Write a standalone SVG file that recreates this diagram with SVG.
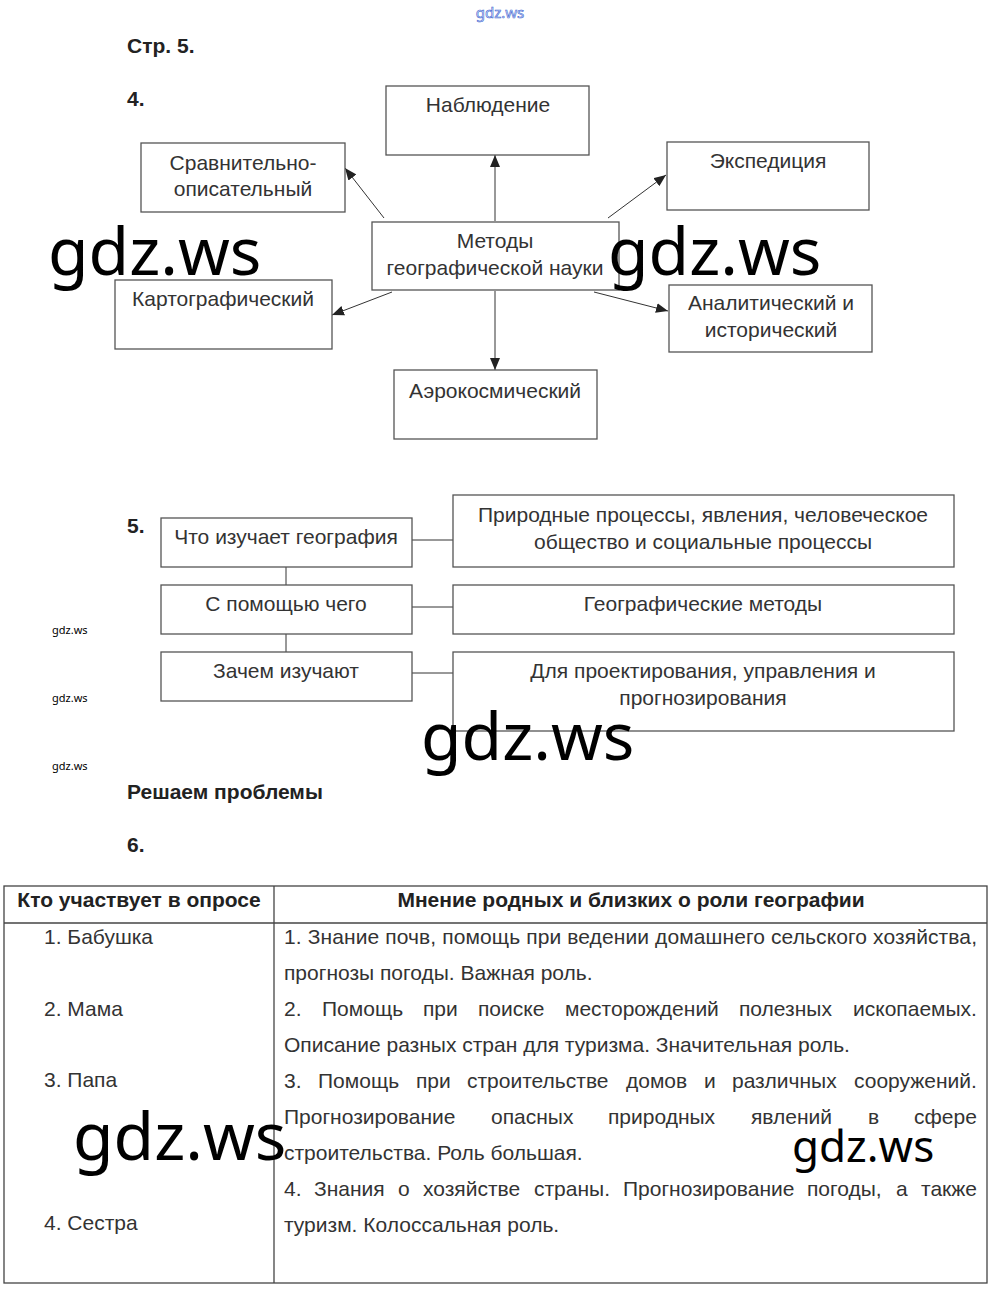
<svg xmlns="http://www.w3.org/2000/svg" width="1000" height="1296" viewBox="0 0 1000 1296">
<style>
.bg{fill:#fff}
.box{fill:#fff;stroke:#555;stroke-width:1.3}
.t{font-family:"Liberation Sans",Arial,sans-serif;font-size:21px;fill:#333}
.c{text-anchor:middle}
.b{font-weight:bold;fill:#222}
.ln{stroke:#333;stroke-width:1;fill:none}
.wm{font-family:"Noto Sans","Open Sans",sans-serif;fill:#000}
.tb{fill:none;stroke:#444;stroke-width:1.3}
</style>
<defs>
<marker id="ah" viewBox="0 0 12 10" refX="12" refY="5" markerWidth="12" markerHeight="10" markerUnits="userSpaceOnUse" orient="auto">
<path d="M0,0 L12,5 L0,10 z" fill="#222"/>
</marker>
</defs>
<rect class="bg" x="0" y="0" width="1000" height="1296"/>

<text x="500" y="18" class="wm c" font-size="15" stroke="#3a5fcf" stroke-width="0.6" style="fill:#e6eeff">gdz.ws</text>
<text x="127" y="53" class="t b">Стр. 5.</text>
<text x="127" y="106" class="t b">4.</text>

<g id="connectors-4">
<line class="ln" x1="495" y1="221" x2="495" y2="155" marker-end="url(#ah)"/>
<line class="ln" x1="384" y1="218" x2="345" y2="168" marker-end="url(#ah)"/>
<line class="ln" x1="608" y1="218" x2="666" y2="175" marker-end="url(#ah)"/>
<line class="ln" x1="392" y1="292" x2="332" y2="315" marker-end="url(#ah)"/>
<line class="ln" x1="594" y1="292" x2="668" y2="311" marker-end="url(#ah)"/>
<line class="ln" x1="495" y1="291" x2="495" y2="370" marker-end="url(#ah)"/>
</g>

<g id="n-nabl"><rect class="box" x="386" y="86" width="203" height="69"/><text class="t c" x="488" y="112">Наблюдение</text></g>
<g id="n-sravn"><rect class="box" x="141" y="143" width="204" height="69"/><text class="t c" x="243" y="170">Сравнительно-</text><text class="t c" x="243" y="196">описательный</text></g>
<g id="n-exp"><rect class="box" x="667" y="142" width="202" height="68"/><text class="t c" x="768" y="168">Экспедиция</text></g>
<g id="n-center"><rect class="box" x="372" y="222" width="247" height="68"/><text class="t c" x="495" y="248">Методы</text><text class="t c" x="495" y="275">географической науки</text></g>
<g id="n-karto"><rect class="box" x="115" y="280" width="217" height="69"/><text class="t c" x="223" y="306">Картографический</text></g>
<g id="n-anal"><rect class="box" x="669" y="285" width="203" height="67"/><text class="t c" x="771" y="310">Аналитический и</text><text class="t c" x="771" y="337">исторический</text></g>
<g id="n-aero"><rect class="box" x="394" y="370" width="203" height="69"/><text class="t c" x="495" y="398">Аэрокосмический</text></g>

<text x="127" y="533" class="t b">5.</text>
<g id="connectors-5">
<line class="ln" x1="286" y1="567" x2="286" y2="585"/>
<line class="ln" x1="286" y1="634" x2="286" y2="652"/>
<line class="ln" x1="412" y1="540" x2="453" y2="540"/>
<line class="ln" x1="412" y1="607" x2="453" y2="607"/>
<line class="ln" x1="412" y1="673" x2="453" y2="673"/>
</g>
<g id="q1"><rect class="box" x="161" y="518" width="251" height="49"/><text class="t c" x="286" y="544">Что изучает география</text></g>
<g id="q2"><rect class="box" x="161" y="585" width="251" height="49"/><text class="t c" x="286" y="611">С помощью чего</text></g>
<g id="q3"><rect class="box" x="161" y="652" width="251" height="49"/><text class="t c" x="286" y="678">Зачем изучают</text></g>
<g id="a1"><rect class="box" x="453" y="495" width="501" height="72"/><text class="t c" x="703" y="522">Природные процессы, явления, человеческое</text><text class="t c" x="703" y="549">общество и социальные процессы</text></g>
<g id="a2"><rect class="box" x="453" y="585" width="501" height="49"/><text class="t c" x="703" y="611">Географические методы</text></g>
<g id="a3"><rect class="box" x="453" y="652" width="501" height="79"/><text class="t c" x="703" y="678">Для проектирования, управления и</text><text class="t c" x="703" y="705">прогнозирования</text></g>

<text x="52" y="634" class="wm" font-size="11">gdz.ws</text>
<text x="52" y="702" class="wm" font-size="11">gdz.ws</text>
<text x="52" y="770" class="wm" font-size="11">gdz.ws</text>

<text x="127" y="799" class="t b">Решаем проблемы</text>
<text x="127" y="852" class="t b">6.</text>

<g id="table">
<rect class="tb" x="4" y="886" width="983" height="397"/>
<line class="tb" x1="4" y1="923" x2="987" y2="923"/>
<line class="tb" x1="274" y1="886" x2="274" y2="1283"/>
<text class="t b c" x="139" y="907">Кто участвует в опросе</text>
<text class="t b c" x="631" y="907">Мнение родных и близких о роли географии</text>
<text class="t" x="44" y="944">1. Бабушка</text>
<text class="t" x="44" y="1016">2. Мама</text>
<text class="t" x="44" y="1087">3. Папа</text>
<text class="t" x="44" y="1230">4. Сестра</text>
<text class="t" x="284" y="944" textLength="693" lengthAdjust="spacing">1. Знание почв, помощь при ведении домашнего сельского хозяйства,</text>
<text class="t" x="284" y="980">прогнозы погоды. Важная роль.</text>
<text class="t" y="1016"><tspan x="284">2.</tspan><tspan x="322">Помощь</tspan><tspan x="423">при</tspan><tspan x="478">поиске</tspan><tspan x="565">месторождений</tspan><tspan x="739">полезных</tspan><tspan x="853">ископаемых.</tspan></text>
<text class="t" x="284" y="1052">Описание разных стран для туризма. Значительная роль.</text>
<text class="t" y="1088"><tspan x="284">3.</tspan><tspan x="318">Помощь</tspan><tspan x="416">при</tspan><tspan x="467">строительстве</tspan><tspan x="626">домов</tspan><tspan x="704">и</tspan><tspan x="732">различных</tspan><tspan x="854">сооружений.</tspan></text>
<text class="t" y="1124"><tspan x="284">Прогнозирование</tspan><tspan x="491">опасных</tspan><tspan x="608">природных</tspan><tspan x="751">явлений</tspan><tspan x="868">в</tspan><tspan x="914">сфере</tspan></text>
<text class="t" x="284" y="1160">строительства. Роль большая.</text>
<text class="t" y="1196"><tspan x="284">4.</tspan><tspan x="314">Знания</tspan><tspan x="398">о</tspan><tspan x="423">хозяйстве</tspan><tspan x="534">страны.</tspan><tspan x="623">Прогнозирование</tspan><tspan x="807">погоды,</tspan><tspan x="896">а</tspan><tspan x="921">также</tspan></text>
<text class="t" x="284" y="1232">туризм. Колоссальная роль.</text>
</g>

<g id="watermarks">
<text class="wm" x="48" y="275" font-size="66">gdz.ws</text>
<text class="wm" x="608" y="275" font-size="66">gdz.ws</text>
<text class="wm" x="421" y="760" font-size="66">gdz.ws</text>
<text class="wm" x="73" y="1160" font-size="66">gdz.ws</text>
<text class="wm" x="792" y="1162" font-size="44">gdz.ws</text>
</g>
</svg>
